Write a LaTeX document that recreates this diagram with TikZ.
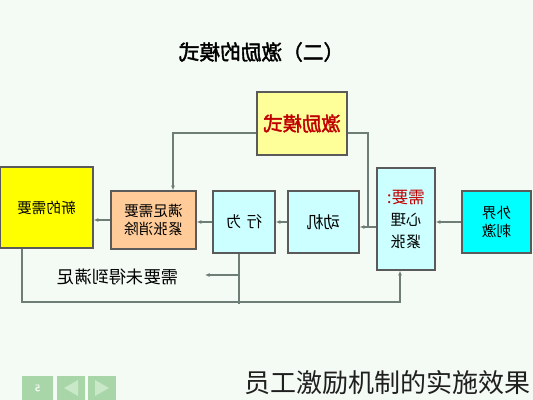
\documentclass[tikz,border=0pt]{standalone}
\usepackage{fontspec}
\usepackage{graphicx}
\usepackage{tikz}
\usetikzlibrary{arrows.meta}
\newfontfamily\cjk[AutoFakeBold=2]{Noto Sans CJK SC}
\newcommand{\flip}[1]{\reflectbox{#1}}
\definecolor{bgpage}{HTML}{F4FAF4}
\definecolor{boxline}{HTML}{5A5A5A}
\definecolor{wireline}{HTML}{6E7E76}
\definecolor{lightyellow}{HTML}{FFFF99}
\definecolor{brightyellow}{HTML}{FFFF00}
\definecolor{peach}{HTML}{FFCC99}
\definecolor{palecyan}{HTML}{CCFFFF}
\definecolor{brightcyan}{HTML}{00FFFF}
\definecolor{navgreen}{HTML}{A8D6A8}
\definecolor{navlight}{HTML}{C8E8C8}
\definecolor{boxred}{HTML}{C00000}

\begin{document}
\begin{tikzpicture}[x=0.75pt,y=-0.75pt, every node/.style={font=\cjk}, block/.style={draw=boxline,line width=1pt,inner sep=0pt,align=center}, nav/.style={fill=navgreen,inner sep=0pt,minimum height=18pt}, arr/.style={-{Latex[length=3.5pt,width=3pt]},draw=wireline,line width=0.8pt}, wire/.style={draw=wireline,line width=0.8pt}]
\fill[bgpage] (0,0) rectangle (533,400);
\useasboundingbox (0,0) rectangle (533,400);
% title and boxes
\node (title) at (261.5,52) {\fontsize{15.5}{17}\selectfont\bfseries\flip{（二）激励的模式}};
\node[block,fill=lightyellow,minimum width=67.5pt,minimum height=47.25pt,text=boxred,font={\cjk\fontsize{14.5}{16}\selectfont\bfseries}] (top) at (302,123.5) {\flip{激励模式}};
\node[block,fill=brightyellow,minimum width=69.75pt,minimum height=60.75pt,font={\cjk\fontsize{11}{13.5}\selectfont}] (newneed) at (46.5,207.5) {\flip{新的需要}};
\node[block,fill=peach,minimum width=63.75pt,minimum height=43.5pt,font={\cjk\fontsize{11}{13.5}\selectfont}] (satisfy) at (153.5,220) {\flip{满足需要}\\\flip{紧张消除}};
\node[block,fill=palecyan,minimum width=46.5pt,minimum height=46.5pt,font={\cjk\fontsize{11.5}{13.5}\selectfont}] (behave) at (244,222) {\flip{行\hspace{4pt}为}};
\node[block,fill=palecyan,minimum width=53.25pt,minimum height=46.5pt,font={\cjk\fontsize{12.5}{14}\selectfont}] (motive) at (323.5,222) {\flip{动机}};
\node[block,fill=palecyan,minimum width=43.5pt,minimum height=76.5pt,font={\cjk\fontsize{11.5}{16.5}\selectfont}] (tension) at (406,219) {\textcolor{boxred}{\fontsize{12.5}{16.5}\selectfont\flip{需要:}}\\\flip{心理}\\\flip{紧张}};
\node[block,fill=brightcyan,minimum width=51.75pt,minimum height=46.5pt,font={\cjk\fontsize{11}{13.5}\selectfont}] (stimulus) at (496.5,222) {\flip{外界}\\\flip{刺激}};
\node[font={\cjk\fontsize{13}{15}\selectfont}] (unmet) at (118,277) {\flip{需要未得到满足}};
% connectors
\coordinate (tl) at (173,133);
\coordinate (tr) at (368,133);
\coordinate (jn) at (368,227);
\coordinate (bl) at (22,302);
\coordinate (br) at (400,302);
\coordinate (bm) at (239,304);
\coordinate (fork) at (239,275);
\coordinate (tip) at (205,275);
\draw[arr] (stimulus.west) -- (tension.east |- stimulus.west);
\draw[wire] (tension.west |- jn) -- (jn);
\draw[arr] (top.east |- tr) -- (tr) -- (jn) -- (motive.east |- jn);
\draw[arr] (motive.west) -- (behave.east);
\draw[arr] (behave.west) -- (satisfy.east |- behave.west);
\draw[arr] (satisfy.west) -- (newneed.east |- satisfy.west);
\draw[arr] (top.west |- tl) -- (tl) -- (satisfy.north -| tl);
\draw[arr] (newneed.south -| bl) -- (bl) -- (br) -- (tension.south -| br);
\draw[wire] (behave.south -| bm) -- (bm);
\draw[arr] (fork) -- (tip);
% footer
\node[font={\cjk\fontsize{19.5}{22}\selectfont},text=black!88] (caption) at (387.5,383) {员工激励机制的实施效果};
\node[nav,minimum width=23.25pt,text=white!85!navgreen,font={\cjk\fontsize{7}{8}\selectfont\bfseries}] (nav1) at (37.5,388) {\flip{5}};
\node[nav,minimum width=21pt] (nav2) at (71,388) {};
\node[nav,minimum width=21pt] (nav3) at (102,388) {};
\fill[navlight] (64,388) -- (78,380) -- (78,396) -- cycle;
\fill[navlight] (95,380) -- (95,396) -- (109,388) -- cycle;
\end{tikzpicture}
\end{document}
